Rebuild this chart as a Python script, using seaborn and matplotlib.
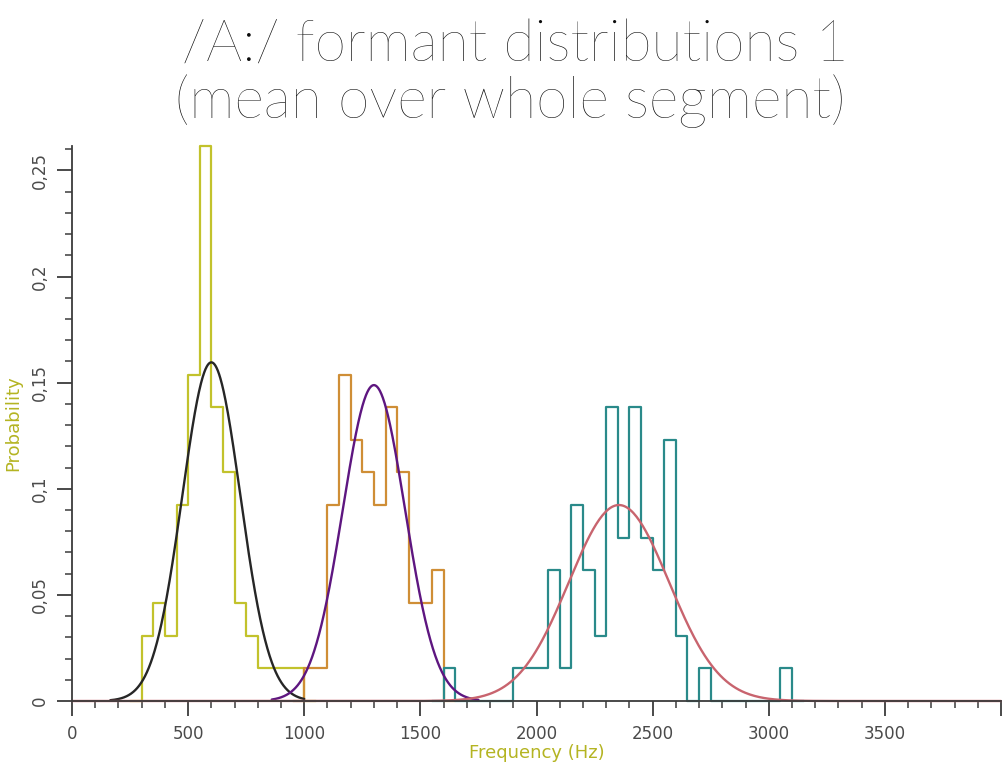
import numpy as np
import pandas as pd
import matplotlib
matplotlib.use("Agg")
import matplotlib.pyplot as plt
from matplotlib.ticker import MultipleLocator, FuncFormatter, FixedLocator
import seaborn as sns

# ---- data -------------------------------------------------------------
N_TOKENS = 65          # tokens per formant
BIN_WIDTH = 50         # Hz

f1_bin_start = 300
f1_counts = [2, 3, 2, 6, 10, 17, 9, 7, 3, 2, 1, 1, 1, 1]

f2_bin_start = 1000
f2_counts = [1, 1, 6, 10, 8, 7, 6, 9, 7, 3, 3, 4]

f3_bin_start = 1600
f3_counts = [1, 0, 0, 0, 0, 0, 1, 1, 1, 4, 1, 6, 4, 2, 9, 5, 9, 5, 4, 8,
             2, 0, 1, 0, 0, 0, 0, 0, 0, 1]

# fitted normal curves: mean, sd (Hz) and drawn frequency range
f1_fit = (600, 125)
f2_fit = (1300, 134)
f3_fit = (2355, 216)
f1_fit_range = (165, 1000)
f2_fit_range = (860, 1750)
f3_fit_range = (0, 4000)

x_ticks = [0, 500, 1000, 1500, 2000, 2500, 3000, 3500, 4000]
x_tick_labels = ["0", "500", "1000", "1500", "2000", "2500", "3000", "3500", ""]

# ---- style ------------------------------------------------------------
sns.set_style("ticks")
plt.rcParams["font.family"] = ["DejaVu Sans"]

HIST_COLORS = ["#c2c22c", "#cf8e36", "#2a8a8a"]
CURVE_COLORS = ["#262626", "#5e1680", "#c8646e"]
LABEL_COLOR = "#b4b422"
AXIS_COLOR = "#3c3c3c"
TEXT_COLOR = "#4a4a4a"
TITLE_COLOR = "#0c0c0c"

fig = plt.figure(figsize=(10.03, 7.63), dpi=100)
ax = fig.add_axes([72 / 1003, 62 / 763, 929 / 1003, 555 / 763])


def histogram_frame(start, counts):
    counts = np.asarray(counts, dtype=float)
    centers = start + (np.arange(len(counts)) + 0.5) * BIN_WIDTH
    return pd.DataFrame({"freq": centers, "prob": counts / N_TOKENS})


formants = [
    (f1_bin_start, f1_counts, f1_fit, f1_fit_range),
    (f2_bin_start, f2_counts, f2_fit, f2_fit_range),
    (f3_bin_start, f3_counts, f3_fit, f3_fit_range),
]

# step histograms (one empty bin either side so outlines close to zero)
for (start, counts, _, _), color in zip(formants, HIST_COLORS):
    df = histogram_frame(start, counts)
    lo = start - BIN_WIDTH
    hi = start + (len(counts) + 1) * BIN_WIDTH
    sns.histplot(data=df, x="freq", weights="prob", binwidth=BIN_WIDTH,
                 binrange=(lo, hi), element="step", fill=False, color=color,
                 linewidth=1.6, ax=ax)

# fitted normal curves, scaled to bin width
for (_, _, (mu, sd), (lo, hi)), color in zip(formants, CURVE_COLORS):
    xs = np.linspace(lo, hi, 600)
    ys = BIN_WIDTH * np.exp(-0.5 * ((xs - mu) / sd) ** 2) / (sd * np.sqrt(2 * np.pi))
    sns.lineplot(x=xs, y=ys, color=color, linewidth=1.7, estimator=None,
                 sort=False, ax=ax)

for line in ax.lines:
    line.set_clip_on(False)

# ---- axes -------------------------------------------------------------
y_top = max(f1_counts) / N_TOKENS
ax.set_xlim(0, 4000)
ax.set_ylim(0, y_top)

ax.xaxis.set_major_locator(FixedLocator(x_ticks))
ax.set_xticklabels(x_tick_labels)
ax.xaxis.set_minor_locator(MultipleLocator(100))
ax.yaxis.set_major_locator(MultipleLocator(0.05))
ax.yaxis.set_minor_locator(MultipleLocator(0.01))
ax.yaxis.set_major_formatter(
    FuncFormatter(lambda v, _: "0" if abs(v) < 1e-9 else f"{v:g}".replace(".", ",")))

ax.tick_params(axis="both", which="major", length=11, width=1.3,
               color=AXIS_COLOR, labelcolor=TEXT_COLOR, labelsize=12, pad=6)
ax.tick_params(axis="both", which="minor", length=5, width=1.1, color=AXIS_COLOR)
ax.tick_params(axis="y", which="major", labelrotation=90)
for lab in ax.get_yticklabels():
    lab.set_va("center")

sns.despine(ax=ax, top=True, right=True)
for side in ("left", "bottom"):
    ax.spines[side].set_color(AXIS_COLOR)
    ax.spines[side].set_linewidth(1.3)

ax.set_xlabel("Frequency (Hz)", color=LABEL_COLOR, fontsize=13, labelpad=1)
ax.set_ylabel("Probability", color=LABEL_COLOR, fontsize=13, labelpad=6)

# ---- title ------------------------------------------------------------
title_font = dict(ha="center", va="center", fontsize=41, color=TITLE_COLOR,
                  family=["Lato", "DejaVu Sans"], fontweight="light")
fig.text(0.514, 0.942, "/A:/ formant distributions 1", **title_font)
fig.text(0.509, 0.868, "(mean over whole segment)", **title_font)

fig.savefig("out.png", dpi=100)
